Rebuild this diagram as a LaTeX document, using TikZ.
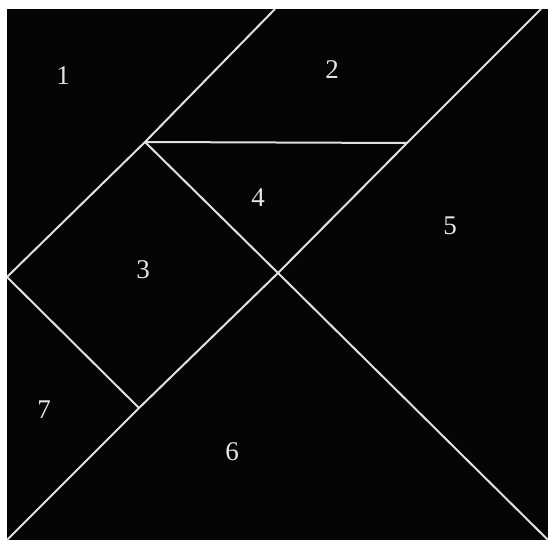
\documentclass[tikz,border=0pt]{standalone}
\usepackage{fontspec}
\setmainfont{Liberation Serif}
\begin{document}
\begin{tikzpicture}[x=1pt,y=-1pt,
  cut/.style={draw=white!88!black,line width=2pt},
  lbl/.style={text=white!90!black,font=\fontsize{27}{27}\selectfont,inner sep=0pt}]
\useasboundingbox (0,0) rectangle (548,540);
\fill[white] (0,0) rectangle (548,540);
\fill[black!98] (7,9) rectangle (548,540);
% key points
\coordinate (T) at (275,9);
\coordinate (A) at (145,142);
\coordinate (L) at (7,277);
\coordinate (H) at (407,143);
\coordinate (C) at (278,273);
\coordinate (D) at (139,408);
\coordinate (TR) at (541,9);
\coordinate (BL) at (7,540);
\coordinate (BR) at (548,540);
\begin{scope}
\clip (7,9) rectangle (548,540);
\draw[cut] (T) -- (A) -- (L);
\draw[cut] (A) -- (H);
\draw[cut] (TR) -- (H) -- (C) -- (D) -- (BL);
\draw[cut] (A) -- (C) -- (BR);
\draw[cut] (L) -- (D);
\end{scope}
\node[lbl] (n1) at (63,76) {1};
\node[lbl] (n2) at (332,70) {2};
\node[lbl] (n3) at (143,270) {3};
\node[lbl] (n4) at (258,198) {4};
\node[lbl] (n5) at (450,226) {5};
\node[lbl] (n6) at (232,452) {6};
\node[lbl] (n7) at (44,410) {7};
\end{tikzpicture}
\end{document}
